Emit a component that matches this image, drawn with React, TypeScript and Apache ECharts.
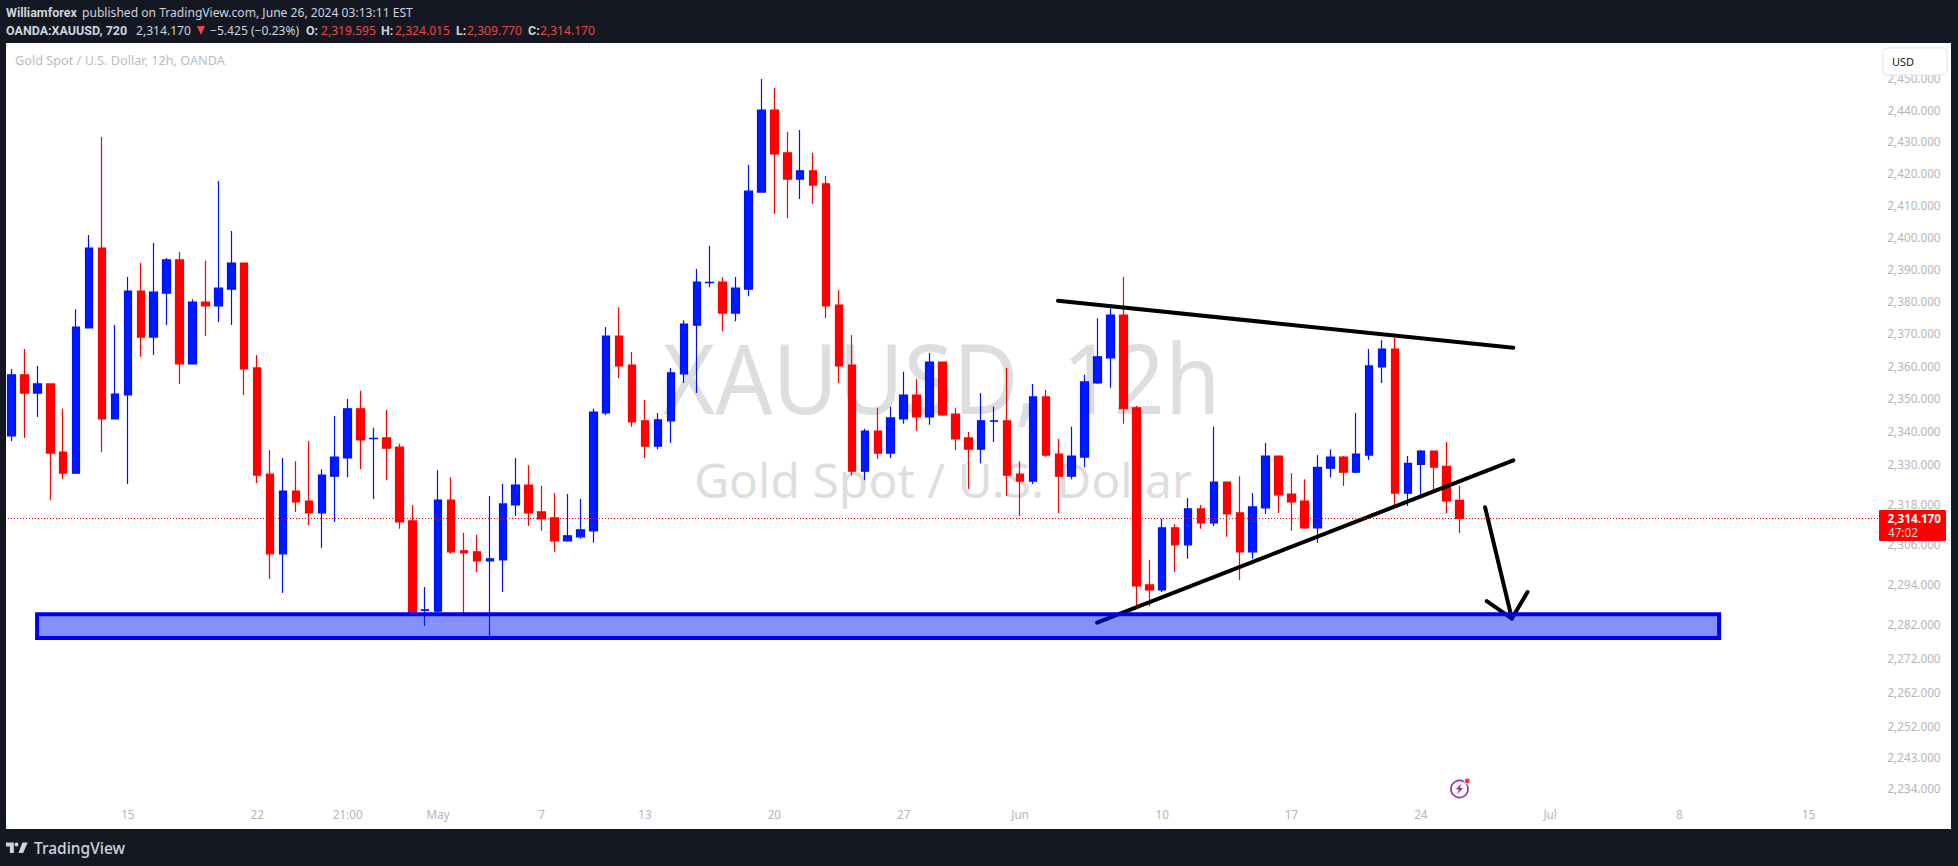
import React, { useEffect, useRef } from "react";
import * as echarts from "echarts";

const opens = [2339.1,2357.8,2352.2,2355.0,2334.2,2327.8,2372.2,2397.0,2344.3,2351.6,2383.6,2369.4,2383.0,2393.3,2361.1,2380.2,2379.0,2384.2,2392.3,2359.9,2327.5,2303.5,2322.4,2319.4,2315.8,2326.9,2332.4,2347.4,2338.3,2338.5,2335.7,2313.4,2286.6,2286.4,2319.7,2304.4,2304.1,2301.4,2301.7,2318.2,2324.2,2316.1,2314.3,2307.4,2308.6,2310.4,2346.1,2369.7,2360.8,2343.7,2336.0,2343.7,2358.1,2373.1,2386.2,2386.4,2376.8,2384.2,2414.5,2440.4,2426.9,2418.6,2421.2,2417.1,2379.3,2360.8,2328.4,2340.6,2333.9,2344.3,2351.6,2344.9,2361.7,2345.8,2338.5,2335.1,2343.6,2343.7,2327.5,2325.4,2351.0,2333.6,2326.9,2332.7,2355.3,2363.0,2376.2,2347.7,2294.2,2292.7,2311.3,2306.2,2317.0,2312.8,2325.1,2315.8,2304.1,2317.3,2333.0,2321.5,2319.4,2311.3,2329.3,2332.7,2328.1,2333.3,2360.2,2365.7,2321.8,2330.5,2334.5,2329.9,2319.595];
const closes = [2357.8,2352.2,2355.0,2333.9,2327.8,2372.5,2397.0,2344.3,2351.9,2383.6,2369.4,2383.3,2393.3,2361.1,2380.2,2379.0,2384.5,2392.3,2359.6,2327.2,2303.5,2322.4,2319.1,2315.8,2327.2,2332.7,2347.4,2337.9,2338.4,2335.4,2313.1,2285.8,2286.8,2319.7,2304.1,2303.8,2301.4,2302.0,2318.5,2324.2,2315.8,2314.0,2307.4,2308.9,2310.7,2346.4,2369.7,2360.5,2343.4,2336.0,2344.0,2358.4,2373.4,2386.4,2386.3,2376.8,2384.5,2414.8,2440.4,2426.5,2418.6,2421.2,2416.7,2379.0,2360.5,2328.4,2340.6,2333.9,2344.6,2351.6,2344.9,2361.7,2345.5,2338.2,2335.1,2343.7,2343.7,2327.2,2325.4,2351.0,2333.3,2326.9,2333.0,2355.6,2363.3,2376.2,2347.4,2293.9,2292.7,2311.3,2306.2,2317.0,2312.8,2325.1,2315.5,2304.1,2317.6,2333.0,2321.2,2319.1,2311.3,2329.6,2332.7,2328.1,2333.6,2360.5,2365.7,2321.8,2330.8,2334.5,2329.6,2319.4,2314.17];
const lows = [2337.6,2338.5,2344.9,2319.7,2326.0,2327.8,2372.2,2334.2,2344.3,2324.5,2363.3,2363.9,2373.1,2355.0,2361.1,2369.7,2374.0,2373.1,2351.6,2324.8,2296.0,2291.8,2316.1,2312.2,2305.3,2313.1,2326.6,2329.0,2320.0,2325.7,2311.0,2285.5,2282.0,2285.8,2303.5,2285.8,2298.1,2279.0,2292.1,2314.9,2311.9,2310.4,2304.1,2307.1,2308.0,2306.8,2345.5,2356.8,2341.9,2332.4,2335.1,2337.0,2355.3,2352.2,2384.8,2371.2,2374.3,2382.0,2414.5,2407.6,2406.4,2412.3,2410.8,2375.2,2355.3,2327.2,2325.7,2332.1,2332.4,2342.8,2340.6,2342.5,2345.2,2334.8,2323.0,2330.8,2337.3,2320.9,2314.9,2324.5,2332.7,2315.8,2326.0,2329.6,2355.0,2353.8,2342.8,2287.0,2287.9,2292.1,2298.1,2302.0,2311.0,2311.9,2308.6,2295.7,2302.0,2315.5,2315.8,2310.4,2311.0,2306.8,2326.6,2323.9,2327.8,2331.8,2355.3,2317.3,2317.9,2321.2,2322.7,2315.8,2309.77];
const highs = [2359.6,2365.7,2360.5,2355.0,2347.4,2378.0,2401.1,2431.9,2373.1,2388.0,2392.3,2398.6,2393.9,2395.8,2381.1,2393.0,2418.0,2402.3,2392.3,2363.9,2334.8,2332.4,2331.4,2337.6,2329.0,2345.2,2350.4,2352.9,2341.6,2347.0,2336.7,2318.2,2293.6,2328.7,2326.6,2309.8,2309.2,2320.9,2324.5,2332.4,2330.2,2323.9,2321.8,2321.5,2320.0,2347.4,2372.5,2378.6,2364.8,2350.1,2346.1,2359.9,2374.6,2390.5,2397.7,2388.0,2388.0,2423.1,2450.3,2447.4,2433.5,2434.1,2426.9,2419.6,2383.9,2370.0,2341.3,2347.7,2348.0,2358.7,2356.5,2364.5,2361.7,2347.7,2340.3,2352.2,2348.0,2359.9,2331.4,2355.0,2353.2,2338.2,2341.9,2357.8,2375.2,2378.3,2388.0,2348.3,2301.7,2314.0,2312.5,2320.3,2318.2,2341.9,2325.1,2326.9,2321.8,2337.0,2333.0,2327.8,2326.0,2333.3,2335.1,2333.0,2346.1,2365.7,2368.5,2369.1,2333.0,2334.8,2334.5,2337.3,2324.015];

const slotCount = 150;
const xTickIndexes = [9,19,26,33,41,49,59,69,78,89,99,109,119,129,139];
const xTickLabels = ["15","22","21:00","May","7","13","20","27","Jun","10","17","24","Jul","8","15"];
const yTicks = [2450,2440,2430,2420,2410,2400,2390,2380,2370,2360,2350,2340,2330,2318,2306,2294,2282,2272,2262,2252,2243,2234];
const lastPrice = 2314.17;

const upperTrend = [[80.94,2380.6],[116.15,2366.1]];
const lowerTrend = [[83.96,2283.0],[116.15,2331.7]];
const arrowShaft = [[113.97,2317.5],[116.04,2284.2]];
const arrowHead = [[114.1,2289.4],[116.04,2284.2],[117.25,2292.1]];
const supportZone = [[1.98,132.07,2285.5,2278.4]];

const BG = "#131823";
const FONT = '"Noto Sans", sans-serif';
const BOLD_FONT = 'Roboto, sans-serif';
const categories = Array.from({ length: slotCount }, (_, i) => {
  const at = xTickIndexes.indexOf(i);
  return at >= 0 ? xTickLabels[at] : "";
});
const candleData = opens.map((o, i) => [o, closes[i], lows[i], highs[i]]);

const LOGO_D = "M14 6H2v6h6v10h6V6zM28 22h-7L27 6h8zM21 9a3 3 0 1 1-6 0a3 3 0 1 1 6 0z";
const BOLT_D = "M5 0L0 6h3L1 11L7 4.5H4z";
echarts.graphic.registerShape("tvlogo", echarts.graphic.extendPath(LOGO_D, {}) as any);
echarts.graphic.registerShape("bolt", echarts.graphic.extendPath(BOLT_D, {}) as any);

function txt(text: string, x: number, y: number, fill: string, size: number, opts: any = {}) {
  return {
    type: "text",
    x,
    y,
    scaleX: opts.scaleX ?? 1,
    z: opts.z ?? 30,
    silent: true,
    style: {
      text,
      fill,
      fontSize: size,
      fontFamily: opts.family ?? (opts.weight === "bold" ? BOLD_FONT : FONT),
      fontWeight: opts.weight ?? "normal",
      textAlign: opts.align ?? "left",
      textVerticalAlign: "middle",
    },
  };
}

function lineSeries(data: number[][], width = 4) {
  return {
    type: "line",
    xAxisIndex: 1,
    yAxisIndex: 0,
    data,
    z: 3,
    symbol: "none",
    silent: true,
    clip: false,
    lineStyle: { color: "#000000", width, cap: "round", join: "round" },
  };
}

const RED = "#ef4646";
const GREY = "#d1d4dc";

export default function App() {
  const ref = useRef<HTMLDivElement>(null);
  useEffect(() => {
    document.body.style.margin = "0";
    document.body.style.overflow = "hidden";
    const chart = echarts.init(ref.current!, undefined, { renderer: "svg" });
    chart.setOption({
      animation: false,
      backgroundColor: BG,
      grid: { left: 5, top: 43, width: 1939.5, height: 786 },
      xAxis: [
        {
          type: "category",
          data: categories,
          boundaryGap: true,
          z: 5,
          axisLine: { show: false },
          axisTick: { show: false },
          splitLine: { show: false },
          axisLabel: {
            inside: true,
            margin: 9,
            interval: (i: number) => xTickIndexes.includes(i),
            hideOverlap: false,
            color: "#b2b5be",
            fontSize: 11.7,
            fontFamily: FONT,
          },
        },
        { type: "value", min: -0.5, max: slotCount - 0.5, show: false },
      ],
      yAxis: {
        type: "log",
        logBase: Math.E,
        position: "right",
        min: 2222.5,
        max: 2461.8,
        z: 5,
        axisLine: { show: false },
        axisTick: { show: false },
        splitLine: { show: false },
        axisLabel: {
          inside: true,
          margin: 4,
          customValues: yTicks,
          color: "#b2b5be",
          fontSize: 11.7,
          fontFamily: FONT,
          verticalAlign: "bottom",
          lineHeight: 3.5,
          formatter: (v: number) =>
            Number(v).toLocaleString("en-US", { minimumFractionDigits: 3, maximumFractionDigits: 3 }),
        },
      },
      series: [
        {
          type: "candlestick",
          xAxisIndex: 0,
          yAxisIndex: 0,
          data: candleData,
          barWidth: 8,
          z: 2,
          silent: true,
          itemStyle: {
            color: "#001aff",
            color0: "#ff0000",
            borderColor: "#0010ff",
            borderColor0: "#ff0000",
            borderWidth: 1.2,
          },
          markLine: {
            silent: true,
            symbol: "none",
            label: { show: false },
            lineStyle: { color: "#ff0000", type: [1, 2], width: 1 },
            data: [{ yAxis: lastPrice }],
          },
        },
        lineSeries(upperTrend),
        lineSeries(lowerTrend),
        lineSeries(arrowShaft),
        lineSeries(arrowHead),
        {
          type: "custom",
          xAxisIndex: 1,
          yAxisIndex: 0,
          z: 4,
          silent: true,
          clip: false,
          data: supportZone,
          encode: { x: [0, 1], y: [2, 3] },
          renderItem: (_p: any, api: any) => {
            const a = api.coord([api.value(0), api.value(2)]);
            const b = api.coord([api.value(1), api.value(3)]);
            return {
              type: "rect",
              shape: { x: a[0], y: a[1], width: b[0] - a[0], height: b[1] - a[1] },
              style: { fill: "rgba(0,25,245,0.48)", stroke: "#0000f0", lineWidth: 4 },
            };
          },
        },
      ],
      graphic: [
        { type: "rect", z: 0, silent: true, shape: { x: 6, y: 43, width: 1945, height: 786 }, style: { fill: "#ffffff" } },
        txt("XAUUSD, 12h", 941.5, 376, "#dddee0", 97, { z: 1, align: "center", scaleX: 0.925 }),
        txt("Gold Spot / U.S. Dollar", 943, 479, "#dddee0", 48, { z: 1, align: "center" }),
        { type: "rect", z: 12, silent: true, shape: { x: 0, y: 0, width: 6, height: 866 }, style: { fill: BG } },
        txt("Gold Spot / U.S. Dollar, 12h, OANDA", 15, 60, "#b9bbc4", 12.7),
        txt("Williamforex", 6, 12.5, GREY, 12.5, { weight: "bold" }),
        txt("published on TradingView.com, June 26, 2024 03:13:11 EST", 82, 12.5, GREY, 12.1),
        txt("OANDA:XAUUSD, 720", 6, 30, GREY, 12.5, { weight: "bold" }),
        txt("2,314.170", 136, 30, GREY, 12.1),
        { type: "polygon", z: 30, silent: true, shape: { points: [[197, 26], [205, 26], [201, 35]] }, style: { fill: RED } },
        txt("−5.425 (−0.23%)", 210, 30, GREY, 12.1),
        txt("O:", 306, 30, GREY, 12.5, { weight: "bold" }),
        txt("2,319.595", 321, 30, RED, 12.1),
        txt("H:", 381, 30, GREY, 12.5, { weight: "bold" }),
        txt("2,324.015", 395, 30, RED, 12.1),
        txt("L:", 456, 30, GREY, 12.5, { weight: "bold" }),
        txt("2,309.770", 467, 30, RED, 12.1),
        txt("C:", 528, 30, GREY, 12.5, { weight: "bold" }),
        txt("2,314.170", 540, 30, RED, 12.1),
        { type: "rect", z: 20, silent: true, shape: { x: 1883, y: 48, width: 64, height: 27, r: 4 }, style: { fill: "#ffffff", stroke: "#e0e3eb", lineWidth: 1 } },
        txt("USD", 1892, 61.5, "#131722", 11),
        { type: "rect", z: 20, silent: true, shape: { x: 1879, y: 510, width: 67, height: 31, r: 1 }, style: { fill: "#ff0000" } },
        txt("2,314.170", 1941, 518, "#ffffff", 11.7, { align: "right", weight: "bold", family: FONT }),
        txt("47:02", 1888, 532, "#ffd3d3", 11.7),
        { type: "tvlogo", z: 30, silent: true, x: 4.6, y: 838.5, scaleX: 0.66, scaleY: 0.66, style: { fill: GREY } },
        txt("TradingView", 34, 848, GREY, 15.5, { weight: 500 }),
        { type: "circle", z: 30, silent: true, shape: { cx: 1459.5, cy: 789, r: 8.5 }, style: { fill: "#ffffff", stroke: "#9c27b0", lineWidth: 1.6 } },
        { type: "bolt", z: 31, silent: true, x: 1456, y: 783.5, style: { fill: "#9c27b0" } },
        { type: "circle", z: 31, silent: true, shape: { cx: 1467.3, cy: 781, r: 3 }, style: { fill: "#f23645", stroke: "#ffffff", lineWidth: 1 } },
      ],
    });
    return () => chart.dispose();
  }, []);
  return <div ref={ref} style={{ position: "absolute", left: 0, top: 0, width: 1958, height: 866 }} />;
}
